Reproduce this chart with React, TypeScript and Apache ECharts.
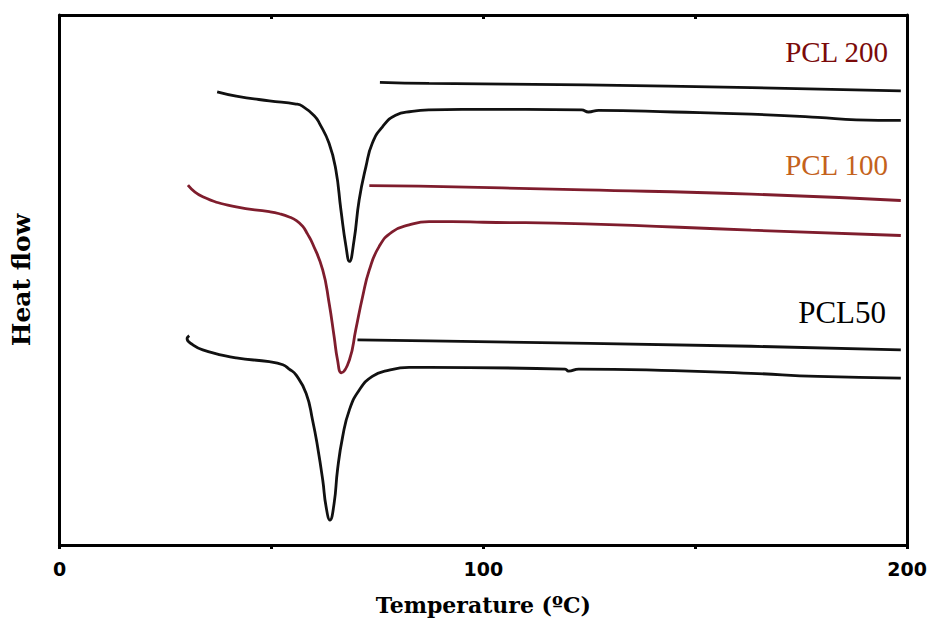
import React, { useEffect, useRef } from "react";
import * as echarts from "echarts";

// Temperature (°C) vs heat flow (arbitrary units)
const pcl200Heating: number[][] = [
  [37.2, 85.5], [41.7, 84.7], [49.5, 83.8], [55.8, 83.2], [57.3, 82.8], [60.1, 81.0],
  [61.3, 79.6], [63.6, 75.8], [65.2, 70.8], [66.4, 63.2], [67.6, 56.3], [68.4, 53.5],
  [69.5, 57.5], [70.7, 65.1], [72.3, 71.4], [73.8, 75.8], [76.2, 78.9], [79.3, 81.1],
  [83.2, 81.8], [87.2, 82.1], [95.0, 82.2], [110.0, 82.2], [123.2, 82.1], [124.8, 81.7],
  [127.2, 82.0], [145.0, 81.7], [163.2, 81.3], [178.9, 80.7], [188.0, 80.2], [198.5, 80.1],
];
const pcl200Cooling: number[][] = [
  [75.6, 87.3], [87.2, 87.1], [124.0, 86.8], [163.2, 86.3], [198.5, 85.7],
];
const pcl100Heating: number[][] = [
  [30.3, 67.9], [33.8, 65.7], [41.7, 63.8], [49.5, 62.9], [51.9, 62.5], [54.2, 61.9],
  [55.9, 61.2], [57.4, 60.1], [58.5, 58.7], [59.7, 56.9], [62.1, 51.9], [63.6, 45.7],
  [64.8, 39.3], [65.6, 34.9], [66.5, 32.5], [68.4, 34.9], [69.9, 40.6], [71.5, 46.8],
  [73.1, 51.9], [75.4, 56.3], [78.5, 59.1], [82.5, 60.4], [87.2, 61.0], [92.6, 61.0],
  [100.0, 60.9], [124.0, 60.6], [163.2, 59.4], [198.5, 58.4],
];
const pcl100Cooling: number[][] = [
  [73.1, 67.8], [84.8, 67.7], [124.0, 67.0], [163.2, 66.2], [198.5, 65.0],
];
const pcl50Heating: number[][] = [
  [30.6, 39.5], [30.1, 38.9], [31.4, 37.8], [33.8, 36.8], [41.7, 35.3], [49.5, 34.6],
  [52.7, 34.0], [54.2, 33.2], [55.8, 32.1], [58.2, 28.6], [59.7, 23.6], [60.9, 18.5],
  [62.1, 12.3], [62.9, 7.2], [63.8, 4.7], [64.8, 7.9], [65.6, 14.2], [66.8, 20.4],
  [68.4, 25.5], [70.7, 29.2], [73.8, 31.8], [77.8, 33.0], [82.5, 33.5], [87.2, 33.5],
  [119.3, 33.2], [120.1, 32.8], [122.5, 33.2], [145.0, 32.9], [163.2, 32.4], [178.9, 31.8],
  [198.5, 31.5],
];
const pcl50Cooling: number[][] = [
  [70.3, 38.7], [87.2, 38.5], [163.2, 37.5], [198.5, 36.8],
];

const xTickLabels = ["0", "100", "200"];
const seriesLabels = ["PCL 200", "PCL 100", "PCL50"];

const BLACK = "#111111";
const MAROON = "#7f1d2d";

export default function App() {
  const ref = useRef<HTMLDivElement>(null);

  useEffect(() => {
    if (!ref.current) return;
    const chart = echarts.init(ref.current, null, { renderer: "svg" });
    const lineSeries = (name: string, data: number[][], color: string) => ({
      name,
      type: "line",
      data,
      showSymbol: false,
      symbol: "none",
      smooth: 0.5,
      lineStyle: { color, width: 2.8 },
      xAxisIndex: 0,
      yAxisIndex: 0,
    });
    const frameLine = { show: true, onZero: false, lineStyle: { color: "#000", width: 3 } };
    chart.setOption({
      animation: false,
      backgroundColor: "#ffffff",
      grid: { left: 59.5, right: 20, top: 15, bottom: 78 },
      xAxis: [
        {
          type: "value",
          min: 0,
          max: 200,
          interval: 50,
          position: "bottom",
          name: "Temperature (ºC)",
          nameLocation: "middle",
          nameGap: 49,
          nameTextStyle: {
            fontFamily: "DejaVu Serif",
            fontWeight: "bold",
            fontSize: 22,
            color: "#000",
          },
          axisLine: frameLine,
          axisTick: { show: true, inside: false, length: 4, lineStyle: { color: "#000", width: 3 } },
          axisLabel: {
            margin: 14,
            fontFamily: "DejaVu Sans",
            fontWeight: "bold",
            fontSize: 19,
            color: "#000",
            formatter: (v: number) => (xTickLabels.includes(String(v)) ? String(v) : ""),
          },
          splitLine: { show: false },
        },
        {
          type: "value",
          min: 0,
          max: 200,
          interval: 50,
          position: "top",
          axisLine: frameLine,
          axisTick: { show: true, inside: true, length: 4, lineStyle: { color: "#000", width: 3 } },
          axisLabel: { show: false },
          splitLine: { show: false },
        },
      ],
      yAxis: [
        {
          type: "value",
          min: 0,
          max: 100,
          position: "left",
          name: "Heat flow",
          nameLocation: "middle",
          nameGap: 26,
          nameRotate: 90,
          nameTextStyle: {
            fontFamily: "DejaVu Serif",
            fontWeight: "bold",
            fontSize: 25,
            color: "#000",
          },
          axisLine: frameLine,
          axisTick: { show: false },
          axisLabel: { show: false },
          splitLine: { show: false },
        },
        {
          type: "value",
          min: 0,
          max: 100,
          position: "right",
          axisLine: frameLine,
          axisTick: { show: false },
          axisLabel: { show: false },
          splitLine: { show: false },
        },
      ],
      series: [
        lineSeries("PCL 200 heating", pcl200Heating, BLACK),
        lineSeries("PCL 200 cooling", pcl200Cooling, BLACK),
        lineSeries("PCL 100 heating", pcl100Heating, MAROON),
        lineSeries("PCL 100 cooling", pcl100Cooling, MAROON),
        lineSeries("PCL50 heating", pcl50Heating, BLACK),
        lineSeries("PCL50 cooling", pcl50Cooling, BLACK),
      ],
      graphic: [
        {
          type: "text",
          x: 888,
          y: 52,
          style: {
            text: seriesLabels[0],
            fill: "#7b0a0a",
            font: "29px 'Liberation Serif'",
            align: "right",
            verticalAlign: "middle",
          },
        },
        {
          type: "text",
          x: 888,
          y: 165,
          style: {
            text: seriesLabels[1],
            fill: "#c4621c",
            font: "29px 'Liberation Serif'",
            align: "right",
            verticalAlign: "middle",
          },
        },
        {
          type: "text",
          x: 886,
          y: 312,
          style: {
            text: seriesLabels[2],
            fill: "#000000",
            font: "31px 'Liberation Serif'",
            align: "right",
            verticalAlign: "middle",
          },
        },
      ],
    });
    return () => chart.dispose();
  }, []);

  return (
    <div
      ref={ref}
      style={{ position: "fixed", left: 0, top: 0, width: "930px", height: "623px", background: "#fff" }}
    />
  );
}
